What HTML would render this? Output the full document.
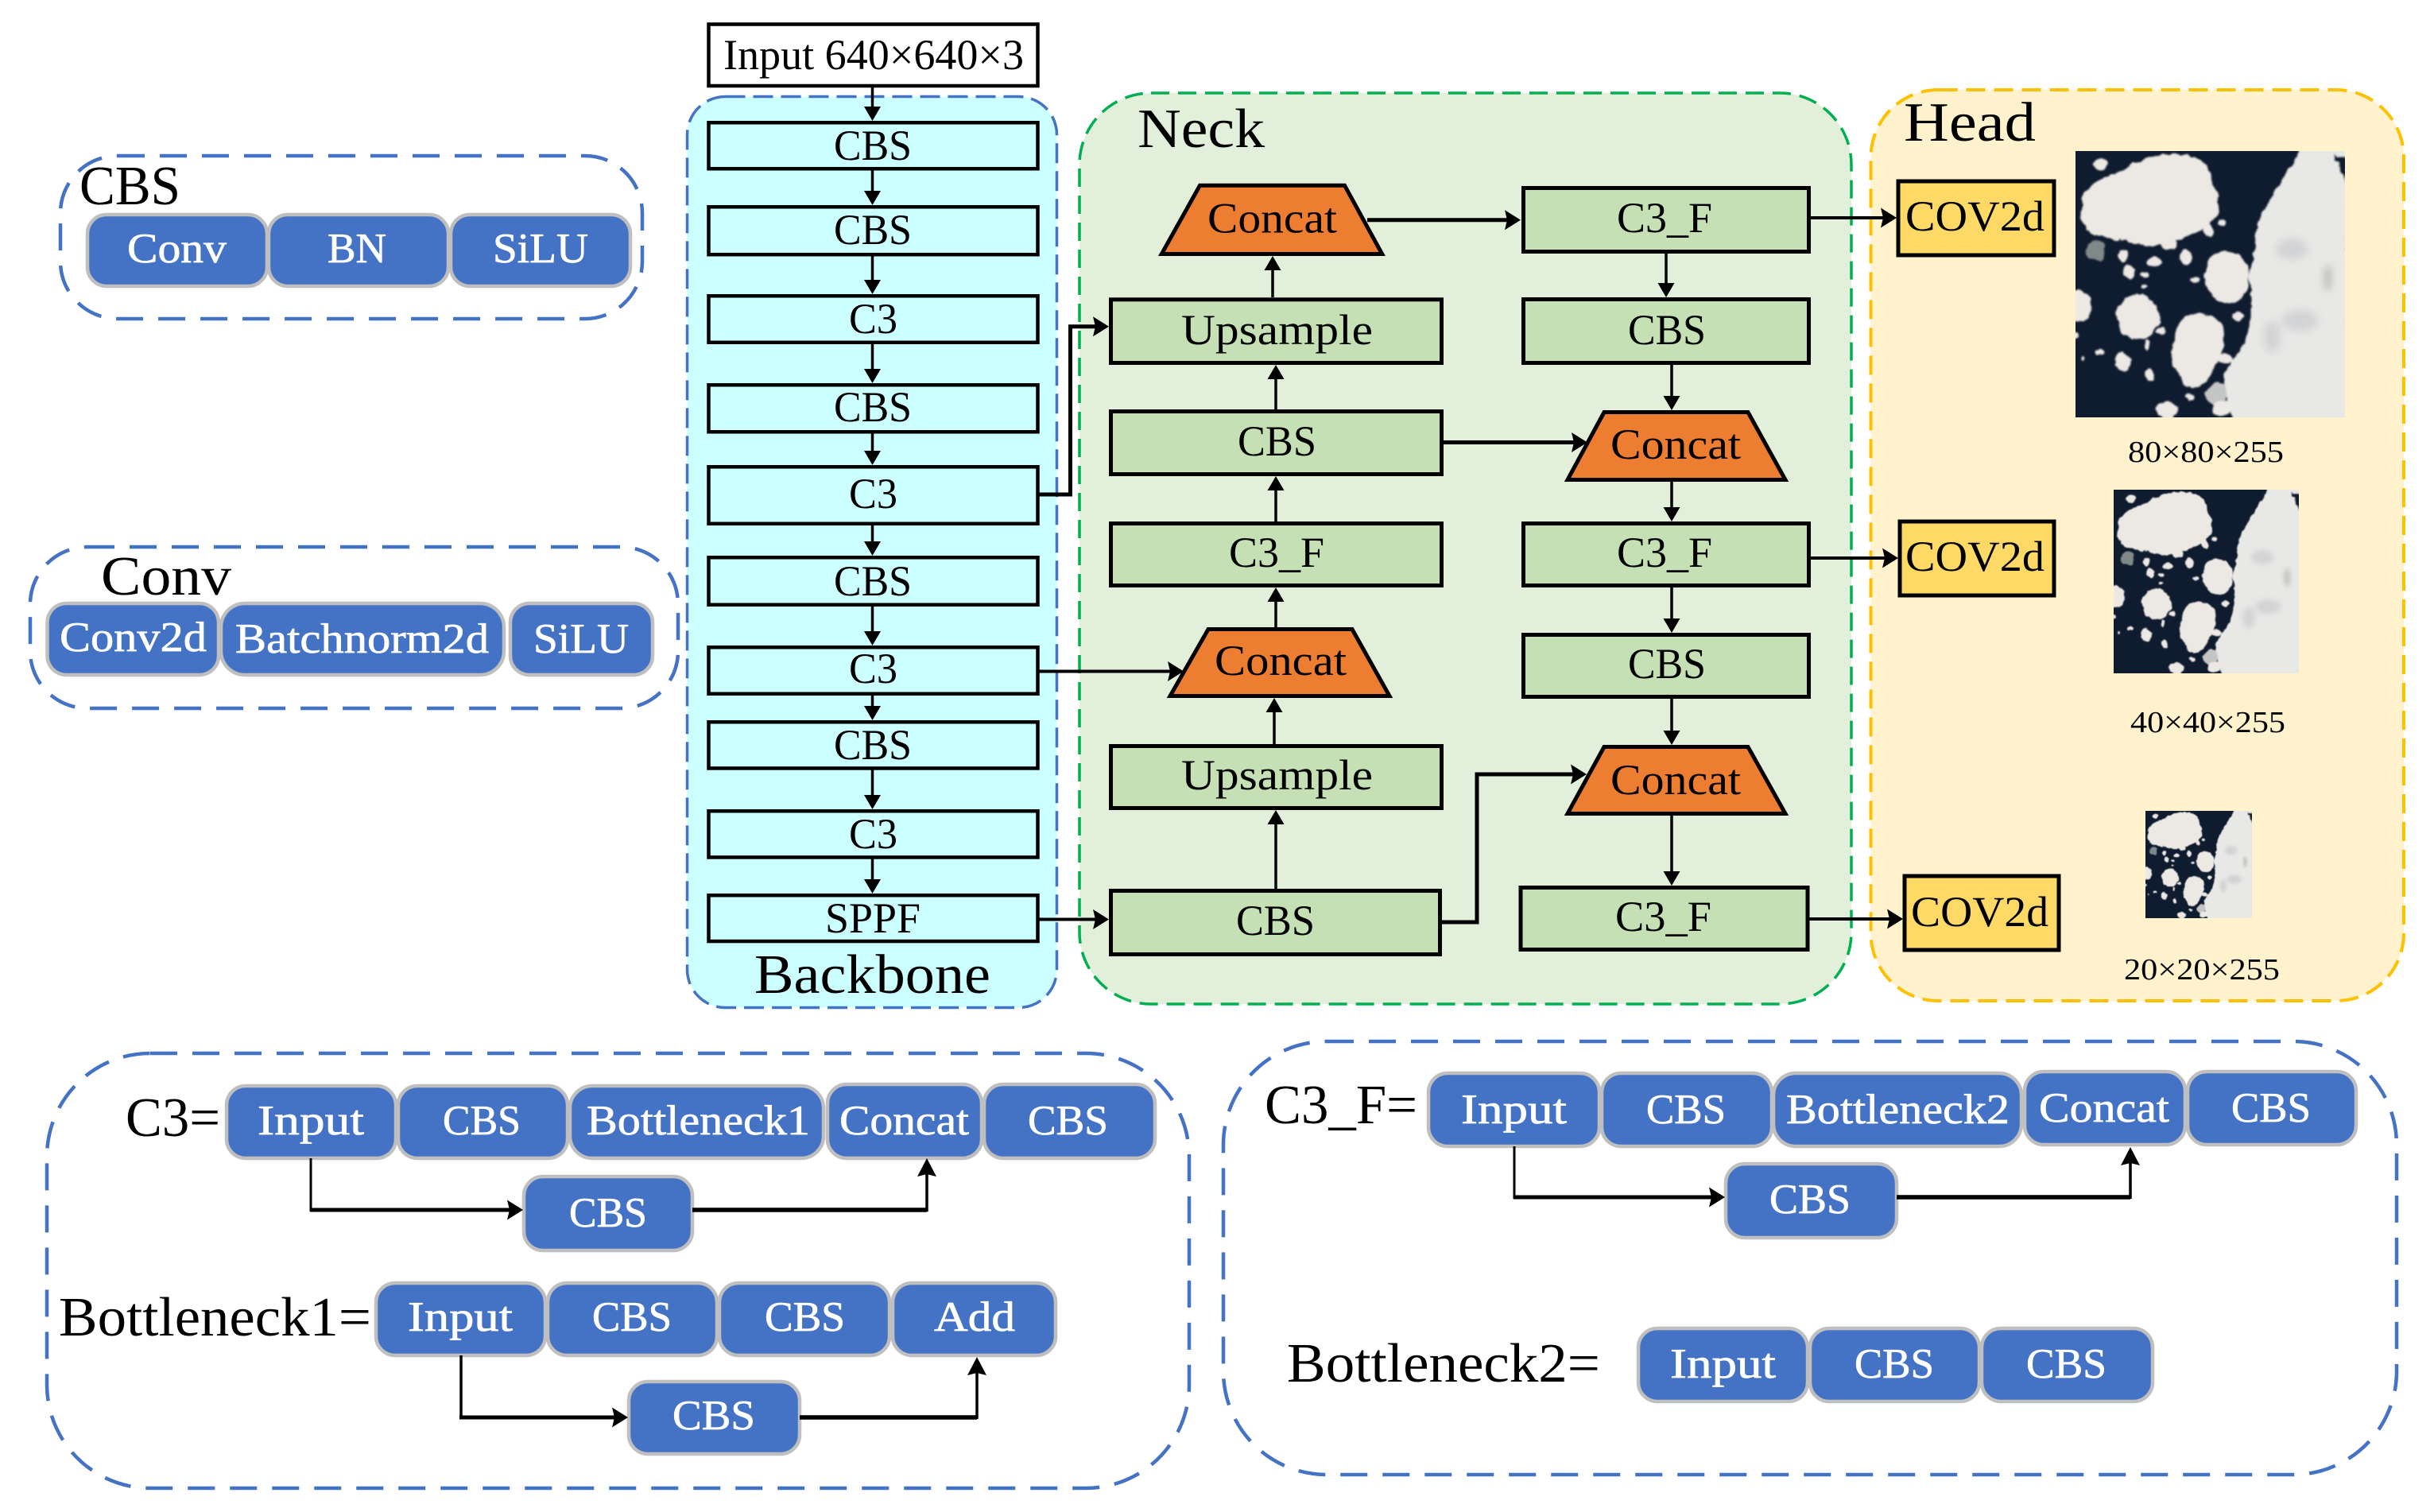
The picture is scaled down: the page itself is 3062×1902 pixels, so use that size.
<!DOCTYPE html>
<html><head><meta charset="utf-8"><style>
html,body{margin:0;padding:0;background:#fff}
svg{display:block}
text{font-family:"Liberation Serif",serif;fill:#000}
.b{font-size:53px;fill:#fff;stroke:#fff;stroke-width:.7px;transform:translateX(-1px)}
.t{font-size:54px}
.n{font-size:54px}
.h{font-size:70px;transform:translateX(-1px)}
.d{font-size:38px}
.btn{fill:#4472C4;stroke:#BFBFBF;stroke-width:4.5}
.cy{fill:#CCFFFF;stroke:#000;stroke-width:4.5}
.gr{fill:#C5E0B4;stroke:#000;stroke-width:5}
.or{fill:#ED7D31;stroke:#000;stroke-width:5;stroke-linejoin:miter}
.ye{fill:#FFD966;stroke:#000;stroke-width:5}
.l{fill:none;stroke:#000;stroke-width:3.5;marker-end:url(#a)}
.u{fill:none;stroke:#000;stroke-width:3.5;marker-end:url(#v)}
.k{fill:none;stroke:#000;stroke-width:5;marker-end:url(#c)}
.m{fill:none;stroke:#000;stroke-width:4;marker-end:url(#c)}
.p{fill:none;stroke:#4472C4;stroke-width:4.5;stroke-dasharray:34 19}
</style></head><body>
<svg xmlns="http://www.w3.org/2000/svg" width="3062" height="1902" viewBox="0 0 3062 1902">
<defs>
<marker id="a" markerUnits="userSpaceOnUse" markerWidth="40" markerHeight="40" viewBox="-5 -20 40 40" refX="8" refY="0" orient="auto"><path d="M0 -10.5L18 0L0 10.5Z" fill="#000"/></marker>
<marker id="v" markerUnits="userSpaceOnUse" markerWidth="40" markerHeight="40" viewBox="-5 -20 40 40" refX="13" refY="0" orient="auto"><path d="M0 -12L23 0L0 12L3 0Z" fill="#000"/></marker>
<marker id="c" markerUnits="userSpaceOnUse" markerWidth="40" markerHeight="40" viewBox="-5 -20 40 40" refX="10" refY="0" orient="auto"><path d="M0 -12.5L20 0L0 12.5L3 0Z" fill="#000"/></marker>
<filter id="bl" x="-5%" y="-5%" width="110%" height="110%">
<feTurbulence type="fractalNoise" baseFrequency=".025" numOctaves="3" seed="4" result="n"/>
<feDisplacementMap in="SourceGraphic" in2="n" scale="24" xChannelSelector="R" yChannelSelector="G"/>
<feGaussianBlur stdDeviation="3.5"/>
</filter>
<filter id="bs" x="-100%" y="-100%" width="300%" height="300%"><feGaussianBlur stdDeviation="14"/></filter>
<clipPath id="cp"><rect x="33" y="60" width="1017" height="1005"/></clipPath>
<symbol id="ice" viewBox="33 60 1017 1005" preserveAspectRatio="none">
<g clip-path="url(#cp)">
<rect x="33" y="60" width="1017" height="1005" fill="#0f1b2e"/>
<g filter="url(#bl)" fill="#ece8e4">
<path d="M60 230C100 170 230 120 300 90C380 60 500 65 530 120C550 180 585 260 570 300C530 350 480 380 400 400C330 420 270 420 220 400C140 390 60 370 50 320Z"/>
<path d="M880 40L1060 40L1060 1080L630 1080C610 1000 580 950 595 900C640 830 690 760 700 680C705 600 680 540 695 490C710 440 710 360 730 310C770 230 830 150 880 60Z" fill="#e8e8e6"/>
<ellipse cx="605" cy="535" rx="85" ry="98"/>
<ellipse cx="270" cy="685" rx="80" ry="85"/>
<ellipse cx="45" cy="645" rx="50" ry="60"/>
<path d="M440 690C480 660 570 680 590 720C600 780 590 830 560 870C530 920 500 970 460 950C410 900 385 860 400 800C410 750 420 710 440 690Z"/>
<ellipse cx="212" cy="855" rx="30" ry="35"/>
<ellipse cx="125" cy="108" rx="24" ry="24"/>
<ellipse cx="313" cy="905" rx="18" ry="22"/>
<ellipse cx="378" cy="1040" rx="40" ry="32"/>
<ellipse cx="450" cy="460" rx="22" ry="28"/>
<ellipse cx="215" cy="455" rx="20" ry="25"/>
<ellipse cx="235" cy="515" rx="22" ry="25"/>
<ellipse cx="330" cy="480" rx="30" ry="18"/>
<ellipse cx="385" cy="410" rx="28" ry="20"/>
<ellipse cx="295" cy="525" rx="18" ry="10"/>
<ellipse cx="485" cy="548" rx="18" ry="10"/>
<ellipse cx="645" cy="685" rx="20" ry="16"/>
<ellipse cx="125" cy="822" rx="20" ry="12"/>
<ellipse cx="360" cy="738" rx="18" ry="14"/>
<ellipse cx="303" cy="790" rx="9" ry="22"/>
<ellipse cx="565" cy="975" rx="40" ry="45" fill="#c4c6c6"/>
<ellipse cx="600" cy="845" rx="28" ry="18"/>
<ellipse cx="585" cy="1030" rx="40" ry="30"/>
<ellipse cx="465" cy="992" rx="16" ry="12"/>
<ellipse cx="585" cy="330" rx="15" ry="10"/>
<ellipse cx="535" cy="360" rx="20" ry="28"/>
<ellipse cx="290" cy="570" rx="10" ry="8"/>
<ellipse cx="38" cy="755" rx="8" ry="16"/>
<ellipse cx="62" cy="842" rx="8" ry="8"/>
<ellipse cx="110" cy="435" rx="38" ry="38" fill="#7f8a88"/>
<path d="M1005 75L1055 85L1055 175Z" fill="#0f1b2e"/>
</g>
<g filter="url(#bs)" fill="#c9cbcd" opacity=".7">
<ellipse cx="985" cy="540" rx="14" ry="50" fill="#a5a5a5"/>
<ellipse cx="775" cy="760" rx="32" ry="60"/>
<ellipse cx="850" cy="430" rx="60" ry="40"/>
<ellipse cx="880" cy="700" rx="70" ry="40"/>
</g>
</g>
</symbol>
</defs>
<rect width="3062" height="1902" fill="#fff"/>

<!-- Panels -->
<rect x="864.5" y="121.5" width="465" height="1146" rx="48" fill="#CCFFFF" stroke="#4472C4" stroke-width="3.5" stroke-dasharray="25 10"/>
<rect x="1358" y="117" width="971" height="1146" rx="90" fill="#E2EFDA" stroke="#00B050" stroke-width="3.5" stroke-dasharray="23 11"/>
<rect x="2353.5" y="113" width="670.5" height="1146" rx="85" fill="#FFF2CC" stroke="#FFC000" stroke-width="4" stroke-dasharray="24 11"/>
<rect x="76" y="196" width="732" height="205" rx="72" class="p"/>
<rect x="38" y="688" width="815" height="203" rx="72" class="p"/>
<rect x="59" y="1325" width="1437" height="547" rx="130" class="p"/>
<rect x="1539" y="1310" width="1476" height="545" rx="130" class="p"/>

<!-- CBS def -->
<text x="101" y="257" class="h" textLength="127" lengthAdjust="spacingAndGlyphs">CBS</text>
<rect x="110" y="270" width="226" height="90" rx="24" class="btn"/>
<rect x="338" y="270" width="226" height="90" rx="24" class="btn"/>
<rect x="567" y="270" width="226" height="90" rx="24" class="btn"/>
<text x="161" y="330" class="b" textLength="125" lengthAdjust="spacingAndGlyphs">Conv</text>
<text x="413" y="330" class="b" textLength="74" lengthAdjust="spacingAndGlyphs">BN</text>
<text x="621" y="330" class="b" textLength="120" lengthAdjust="spacingAndGlyphs">SiLU</text>

<!-- Conv def -->
<text x="128" y="748" class="h" textLength="164" lengthAdjust="spacingAndGlyphs">Conv</text>
<rect x="59.5" y="759" width="215.5" height="90" rx="24" class="btn"/>
<rect x="278" y="759" width="356" height="90" rx="30" class="btn"/>
<rect x="642" y="759" width="179" height="90" rx="24" class="btn"/>
<text x="76" y="819" class="b" textLength="185" lengthAdjust="spacingAndGlyphs">Conv2d</text>
<text x="297" y="821" class="b" textLength="319" lengthAdjust="spacingAndGlyphs">Batchnorm2d</text>
<text x="672" y="821" class="b" textLength="120" lengthAdjust="spacingAndGlyphs">SiLU</text>

<!-- Backbone -->
<rect x="891.5" y="30.5" width="414" height="77.5" fill="#fff" stroke="#000" stroke-width="4.5"/>
<rect x="891.5" y="154.25" width="414" height="58" class="cy"/>
<rect x="891.5" y="260.25" width="414" height="60" class="cy"/>
<rect x="891.5" y="372.25" width="414" height="58.5" class="cy"/>
<rect x="891.5" y="484.25" width="414" height="59" class="cy"/>
<rect x="891.5" y="587.25" width="414" height="71.5" class="cy"/>
<rect x="891.5" y="701.25" width="414" height="59.5" class="cy"/>
<rect x="891.5" y="814.25" width="414" height="58.5" class="cy"/>
<rect x="891.5" y="908.25" width="414" height="58.2" class="cy"/>
<rect x="891.5" y="1020.25" width="414" height="58.2" class="cy"/>
<rect x="891.5" y="1126.25" width="414" height="57.8" class="cy"/>
<text x="910" y="87" class="n" textLength="378" lengthAdjust="spacingAndGlyphs">Input 640×640×3</text>
<text x="1049" y="201" class="t" textLength="98" lengthAdjust="spacingAndGlyphs">CBS</text>
<text x="1049" y="307" class="t" textLength="98" lengthAdjust="spacingAndGlyphs">CBS</text>
<text x="1068" y="419" class="t" textLength="61" lengthAdjust="spacingAndGlyphs">C3</text>
<text x="1049" y="530" class="t" textLength="98" lengthAdjust="spacingAndGlyphs">CBS</text>
<text x="1068" y="639" class="t" textLength="61" lengthAdjust="spacingAndGlyphs">C3</text>
<text x="1049" y="749" class="t" textLength="98" lengthAdjust="spacingAndGlyphs">CBS</text>
<text x="1068" y="859" class="t" textLength="61" lengthAdjust="spacingAndGlyphs">C3</text>
<text x="1049" y="955" class="t" textLength="98" lengthAdjust="spacingAndGlyphs">CBS</text>
<text x="1068" y="1067" class="t" textLength="61" lengthAdjust="spacingAndGlyphs">C3</text>
<text x="1038" y="1173" class="t" textLength="120" lengthAdjust="spacingAndGlyphs">SPPF</text>
<text x="950" y="1249" class="h" textLength="297" lengthAdjust="spacingAndGlyphs">Backbone</text>

<path d="M1097.5 110V142" class="l"/><path d="M1097.5 214V248" class="l"/><path d="M1097.5 322V360" class="l"/><path d="M1097.5 433V472" class="l"/><path d="M1097.5 545V575" class="l"/><path d="M1097.5 661V689" class="l"/><path d="M1097.5 763V802" class="l"/><path d="M1097.5 875V896" class="l"/><path d="M1097.5 968V1008" class="l"/><path d="M1097.5 1080V1114" class="l"/>

<!-- Neck -->
<text x="1432" y="185" class="h" textLength="160" lengthAdjust="spacingAndGlyphs">Neck</text>
<polygon points="1509.5,233.2 1691.5,233.2 1738.7,319.5 1461.3,319.5" class="or"/>
<polygon points="2018,518.5 2199,518.5 2246,603.5 1972,603.5" class="or"/>
<polygon points="1520,791.5 1701,791.5 1748,875.5 1472,875.5" class="or"/>
<polygon points="2018,939.5 2199,939.5 2246,1023.5 1972,1023.5" class="or"/>
<rect x="1397.5" y="376.8" width="416" height="79.7" class="gr"/>
<rect x="1916.5" y="236.5" width="359" height="80" class="gr"/>
<rect x="1916.5" y="376.5" width="359" height="80" class="gr"/>
<rect x="1397.5" y="517.5" width="416" height="79" class="gr"/>
<rect x="1397.5" y="658.5" width="416" height="78" class="gr"/>
<rect x="1916.5" y="658.5" width="359" height="78" class="gr"/>
<rect x="1916.5" y="798.5" width="359" height="78" class="gr"/>
<rect x="1397.5" y="938.5" width="416" height="78" class="gr"/>
<rect x="1397.5" y="1120.5" width="414" height="80" class="gr"/>
<rect x="1913" y="1116.5" width="361" height="78" class="gr"/>
<text x="1519" y="292.5" class="t" textLength="163" lengthAdjust="spacingAndGlyphs">Concat</text>
<text x="2034" y="292" class="t" textLength="120" lengthAdjust="spacingAndGlyphs">C3_F</text>
<text x="1486" y="433" class="t" textLength="241" lengthAdjust="spacingAndGlyphs">Upsample</text>
<text x="2048" y="433" class="t" textLength="98" lengthAdjust="spacingAndGlyphs">CBS</text>
<text x="1557" y="573" class="t" textLength="99" lengthAdjust="spacingAndGlyphs">CBS</text>
<text x="2026" y="577" class="t" textLength="164" lengthAdjust="spacingAndGlyphs">Concat</text>
<text x="1546" y="713" class="t" textLength="120" lengthAdjust="spacingAndGlyphs">C3_F</text>
<text x="2034" y="713" class="t" textLength="120" lengthAdjust="spacingAndGlyphs">C3_F</text>
<text x="1528" y="849" class="t" textLength="166" lengthAdjust="spacingAndGlyphs">Concat</text>
<text x="2048" y="853" class="t" textLength="98" lengthAdjust="spacingAndGlyphs">CBS</text>
<text x="2026" y="999" class="t" textLength="164" lengthAdjust="spacingAndGlyphs">Concat</text>
<text x="1486" y="993" class="t" textLength="241" lengthAdjust="spacingAndGlyphs">Upsample</text>
<text x="1555" y="1176" class="t" textLength="99" lengthAdjust="spacingAndGlyphs">CBS</text>
<text x="2032" y="1171" class="t" textLength="121" lengthAdjust="spacingAndGlyphs">C3_F</text>

<!-- Head -->
<text x="2396" y="177" class="h" textLength="166" lengthAdjust="spacingAndGlyphs">Head</text>
<rect x="2388" y="228" width="196" height="93" class="ye"/>
<rect x="2390" y="656" width="194" height="93" class="ye"/>
<rect x="2396" y="1102" width="194" height="93" class="ye"/>
<text x="2397" y="290" class="t" textLength="175" lengthAdjust="spacingAndGlyphs">COV2d</text>
<text x="2397" y="718" class="t" textLength="175" lengthAdjust="spacingAndGlyphs">COV2d</text>
<text x="2404" y="1165" class="t" textLength="173" lengthAdjust="spacingAndGlyphs">COV2d</text>
<use href="#ice" x="2611" y="190" width="339" height="335"/>
<use href="#ice" x="2659" y="616" width="233" height="231"/>
<use href="#ice" x="2699" y="1020" width="134" height="135"/>
<text x="2677" y="581" class="d" textLength="196" lengthAdjust="spacingAndGlyphs">80×80×255</text>
<text x="2680" y="921" class="d" textLength="195" lengthAdjust="spacingAndGlyphs">40×40×255</text>
<text x="2672" y="1232" class="d" textLength="196" lengthAdjust="spacingAndGlyphs">20×20×255</text>

<!-- Connectors main -->
<path d="M1307 622H1346.5V410.7H1385" class="k"/>
<path d="M1307 844.5H1479" class="m"/>
<path d="M1307 1156.5H1385" class="m"/>
<path d="M1811 1160H1858V974H1986" class="k"/>
<path d="M1720 276.7H1903" class="k"/>
<path d="M1814 556.5H1987" class="k"/>
<path d="M2276 274H2376" class="m"/>
<path d="M2276 702H2378" class="m"/>
<path d="M2275 1156H2384" class="m"/>
<path d="M1601 374V332" class="l"/><path d="M1605 515V469" class="l"/><path d="M1605 656V609" class="l"/><path d="M1605 789V749" class="l"/><path d="M1603 936V888" class="l"/><path d="M1605 1118V1029" class="l"/>
<path d="M2096 319V364" class="l"/><path d="M2103 459V506" class="l"/><path d="M2103 606V646" class="l"/><path d="M2103 739V786" class="l"/><path d="M2103 879V927" class="l"/><path d="M2103 1026V1104" class="l"/>

<!-- C3 detail -->
<text x="159" y="1429" class="h" textLength="119" lengthAdjust="spacingAndGlyphs">C3=</text>
<rect x="285" y="1366" width="213" height="91" rx="24" class="btn"/>
<rect x="501" y="1366" width="213" height="91" rx="24" class="btn"/>
<rect x="717" y="1366" width="319" height="91" rx="28" class="btn"/>
<rect x="1041" y="1364" width="194" height="93" rx="24" class="btn"/>
<rect x="1238" y="1364" width="215" height="93" rx="24" class="btn"/>
<rect x="659" y="1480" width="212" height="93" rx="24" class="btn"/>
<text x="325" y="1427" class="b" textLength="134" lengthAdjust="spacingAndGlyphs">Input</text>
<text x="558" y="1427" class="b" textLength="98" lengthAdjust="spacingAndGlyphs">CBS</text>
<text x="739" y="1427" class="b" textLength="281" lengthAdjust="spacingAndGlyphs">Bottleneck1</text>
<text x="1057" y="1427" class="b" textLength="163" lengthAdjust="spacingAndGlyphs">Concat</text>
<text x="1294" y="1427" class="b" textLength="101" lengthAdjust="spacingAndGlyphs">CBS</text>
<text x="717" y="1543" class="b" textLength="98" lengthAdjust="spacingAndGlyphs">CBS</text>
<path d="M391 1457V1524" fill="none" stroke="#000" stroke-width="3"/>
<path d="M390 1522H648" class="k"/>
<path d="M871 1522H1166" fill="none" stroke="#000" stroke-width="5.5"/>
<path d="M1166 1524V1467" class="u"/>

<text x="75" y="1680" class="h" textLength="393" lengthAdjust="spacingAndGlyphs">Bottleneck1=</text>
<rect x="473" y="1614" width="213" height="91" rx="24" class="btn"/>
<rect x="689" y="1614" width="213" height="91" rx="24" class="btn"/>
<rect x="905" y="1614" width="214" height="91" rx="24" class="btn"/>
<rect x="1123" y="1614" width="205" height="91" rx="24" class="btn"/>
<rect x="791" y="1738" width="215" height="91" rx="24" class="btn"/>
<text x="514" y="1674" class="b" textLength="132" lengthAdjust="spacingAndGlyphs">Input</text>
<text x="746" y="1674" class="b" textLength="100" lengthAdjust="spacingAndGlyphs">CBS</text>
<text x="963" y="1674" class="b" textLength="101" lengthAdjust="spacingAndGlyphs">CBS</text>
<text x="1176" y="1674" class="b" textLength="102" lengthAdjust="spacingAndGlyphs">Add</text>
<text x="847" y="1798" class="b" textLength="104" lengthAdjust="spacingAndGlyphs">CBS</text>
<path d="M580 1705V1785" fill="none" stroke="#000" stroke-width="3.5"/>
<path d="M578 1783H780" class="k"/>
<path d="M1006 1783H1229" fill="none" stroke="#000" stroke-width="5.5"/>
<path d="M1229 1785V1717" class="u"/>

<!-- C3_F detail -->
<text x="1592" y="1413" class="h" textLength="192" lengthAdjust="spacingAndGlyphs">C3_F=</text>
<rect x="1797" y="1350" width="215" height="92" rx="24" class="btn"/>
<rect x="2015" y="1350" width="214" height="92" rx="24" class="btn"/>
<rect x="2231" y="1350" width="312" height="92" rx="28" class="btn"/>
<rect x="2547" y="1348" width="202" height="92" rx="24" class="btn"/>
<rect x="2752" y="1348" width="212" height="92" rx="24" class="btn"/>
<rect x="2171" y="1464" width="215" height="93" rx="24" class="btn"/>
<text x="1839" y="1413" class="b" textLength="133" lengthAdjust="spacingAndGlyphs">Input</text>
<text x="2072" y="1413" class="b" textLength="100" lengthAdjust="spacingAndGlyphs">CBS</text>
<text x="2248" y="1413" class="b" textLength="281" lengthAdjust="spacingAndGlyphs">Bottleneck2</text>
<text x="2566" y="1411" class="b" textLength="164" lengthAdjust="spacingAndGlyphs">Concat</text>
<text x="2808" y="1411" class="b" textLength="100" lengthAdjust="spacingAndGlyphs">CBS</text>
<text x="2227" y="1526" class="b" textLength="102" lengthAdjust="spacingAndGlyphs">CBS</text>
<path d="M1905 1442V1508" fill="none" stroke="#000" stroke-width="3"/>
<path d="M1904 1506H2160" class="k"/>
<path d="M2386 1506H2680" fill="none" stroke="#000" stroke-width="5.5"/>
<path d="M2680 1508V1453" class="u"/>

<text x="1620" y="1738" class="h" textLength="394" lengthAdjust="spacingAndGlyphs">Bottleneck2=</text>
<rect x="2061" y="1671" width="213" height="92" rx="24" class="btn"/>
<rect x="2277" y="1671" width="213" height="92" rx="24" class="btn"/>
<rect x="2493" y="1671" width="215" height="92" rx="24" class="btn"/>
<text x="2102" y="1733" class="b" textLength="133" lengthAdjust="spacingAndGlyphs">Input</text>
<text x="2334" y="1733" class="b" textLength="100" lengthAdjust="spacingAndGlyphs">CBS</text>
<text x="2550" y="1733" class="b" textLength="101" lengthAdjust="spacingAndGlyphs">CBS</text>
</svg>
</body></html>
